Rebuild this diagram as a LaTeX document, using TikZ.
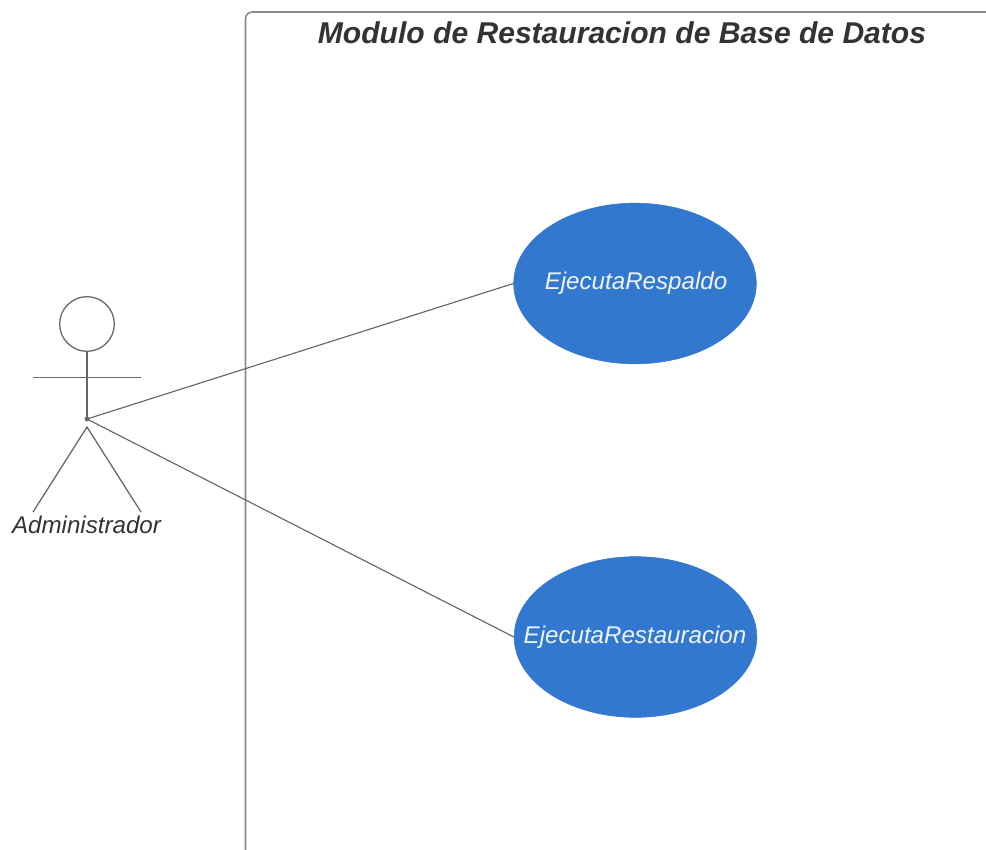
\documentclass[tikz,border=0pt]{standalone}
\usepackage{fontspec}
\setmainfont{Liberation Sans}
\usetikzlibrary{shapes.geometric}
\definecolor{linec}{HTML}{666666}
\definecolor{framec}{HTML}{8A8A8A}
\definecolor{txt}{HTML}{333333}
\definecolor{ub}{HTML}{3278CF}
\tikzset{x=0.75pt,y=-0.75pt,
 usecase/.style={ellipse,fill=ub,draw=ub,inner sep=0pt,minimum width=182pt,minimum height=120.5pt},
 uctext/.style={text=white!92!ub,font=\itshape\fontsize{18.1}{21}\selectfont},
 actorline/.style={draw=linec,line width=0.95pt},
 conn/.style={draw=linec,line width=0.85pt}}
\begin{document}
\begin{tikzpicture}
\useasboundingbox[fill=white] (0,0) rectangle (986,850);
\draw[draw=framec,line width=1.2pt,rounded corners=5pt] (245.5,850) -- (245.5,12) -- (986,12);
\node[font=\bfseries\itshape\fontsize{22.55}{26}\selectfont,text=txt] (title) at (622,33) {Modulo de Restauracion de Base de Datos};
\node[usecase] (uc1) at (635,283.5) {};
\node[uctext] (uc1t) at (636,283.5) {EjecutaRespaldo};
\node[usecase] (uc2) at (635.5,637) {};
\node[uctext] (uc2t) at (635,637) {EjecutaRestauracion};
\node[circle,draw=linec,line width=0.95pt,minimum size=41pt,inner sep=0pt] (head) at (87,324) {};
\coordinate (hip) at (87,419);
\coordinate (legtop) at (87,427);
\coordinate (armL) at (33,377.5);
\coordinate (armR) at (141,377.5);
\coordinate (footL) at (33,512);
\coordinate (footR) at (141,512);
\draw[actorline] (head.south) -- (hip);
\draw[actorline] (armL) -- (armR);
\draw[actorline] (footL) -- (legtop) -- (footR);
\node[font=\itshape\fontsize{18.1}{21}\selectfont,text=txt] (actor) at (86.5,524.5) {Administrador};
\draw[conn] (hip) -- (uc1.west);
\draw[conn] (hip) -- (uc2.west);
\fill[linec] (hip) circle (2.4);
\end{tikzpicture}
\end{document}
